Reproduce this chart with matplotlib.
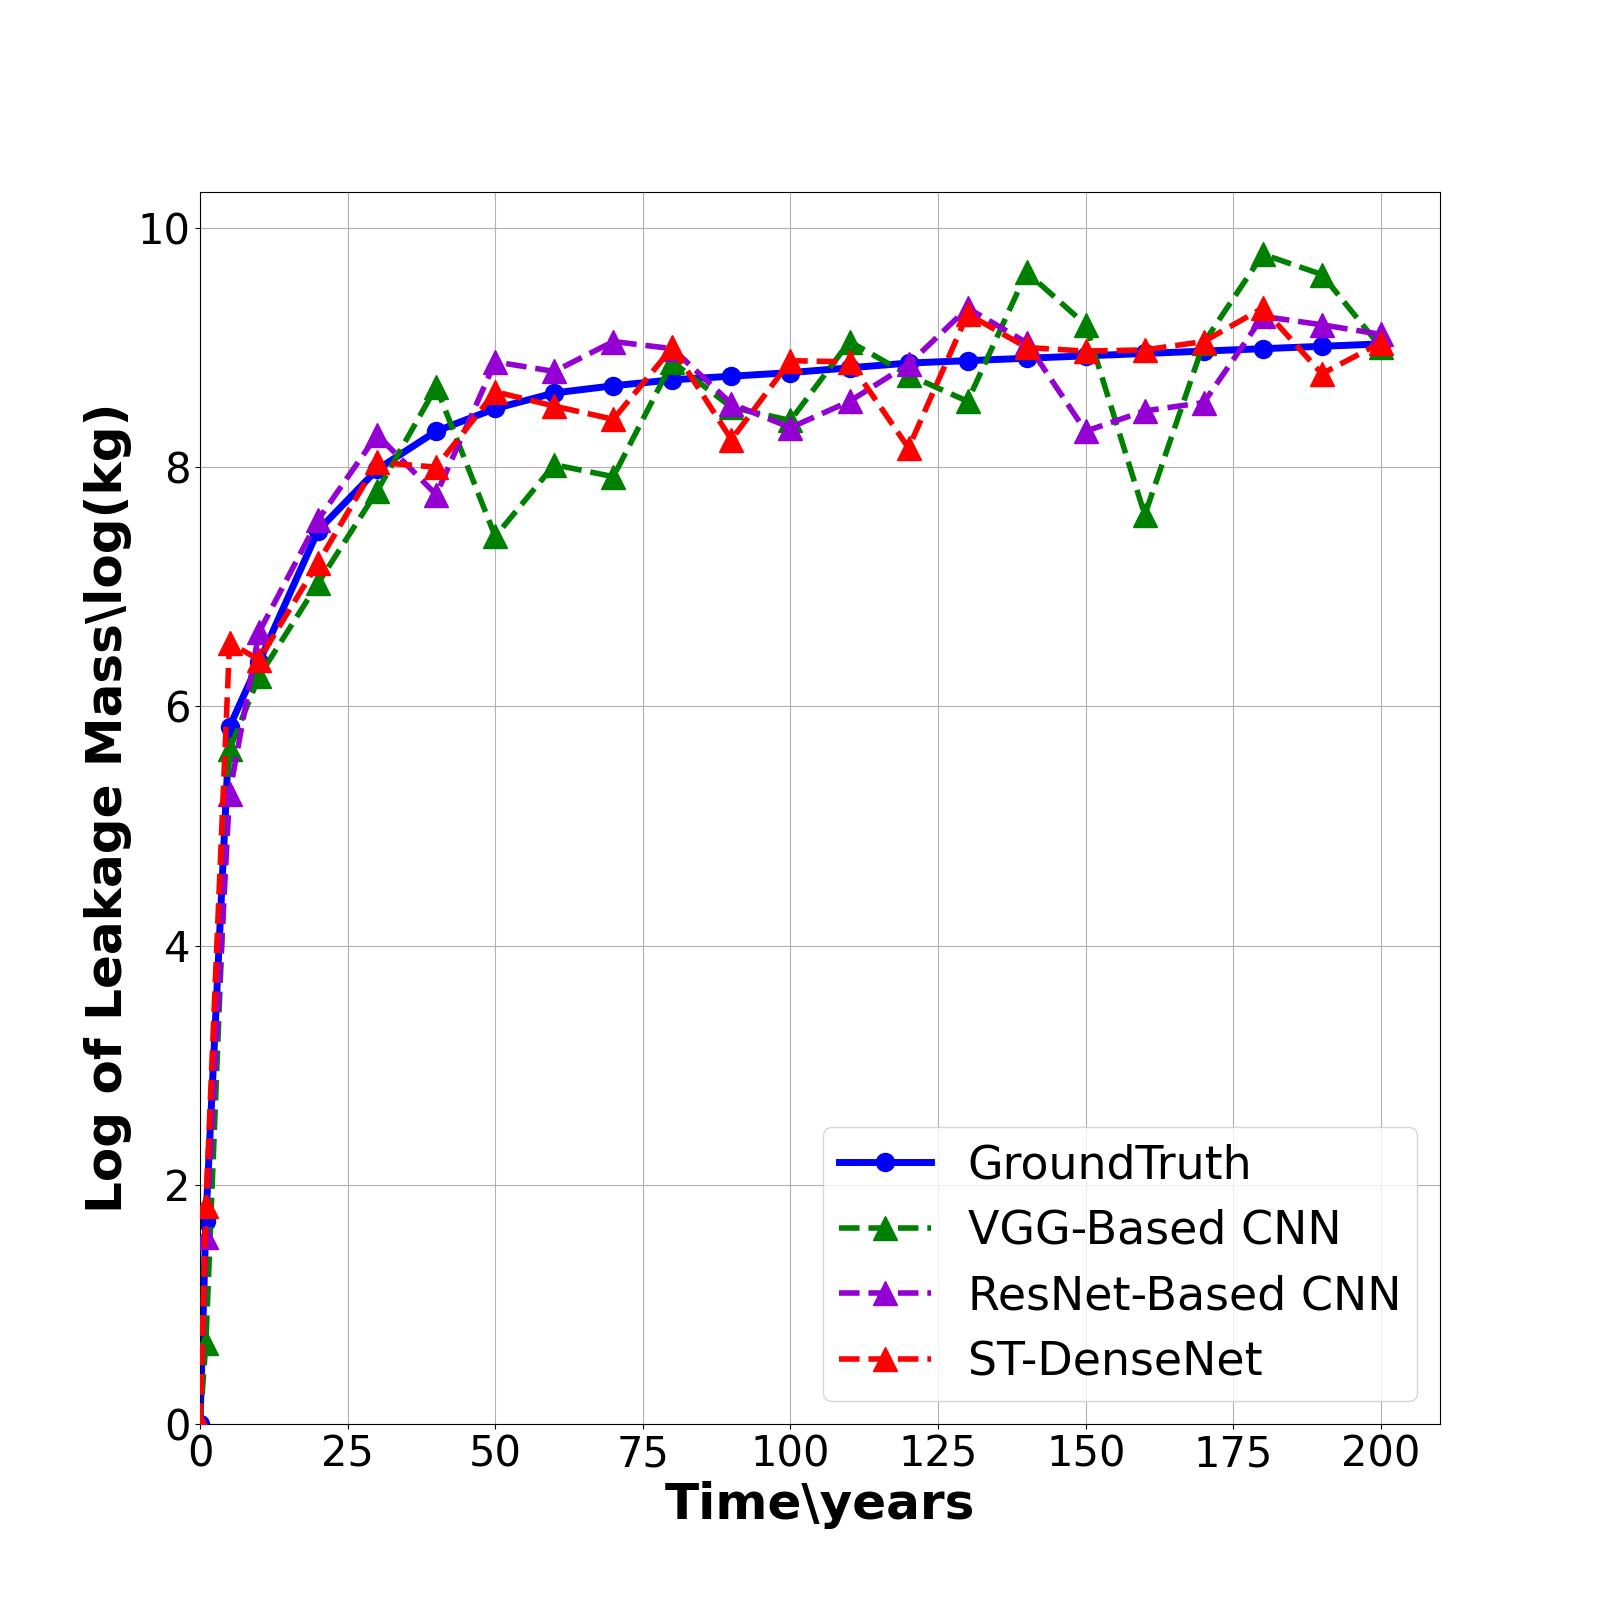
import numpy as np
import matplotlib
matplotlib.use("Agg")
import matplotlib.pyplot as plt

years = [0, 1, 5, 10, 20, 30, 40, 50, 60, 70, 80, 90, 100,
         110, 120, 130, 140, 150, 160, 170, 180, 190, 200]

ground_truth = [0.0, 1.70, 5.83, 6.37, 7.47, 7.98, 8.30, 8.49, 8.62, 8.68, 8.73, 8.76, 8.79,
                8.83, 8.87, 8.89, 8.91, 8.93, 8.95, 8.97, 8.99, 9.01, 9.03]
vgg_cnn = [0.0, 0.68, 5.64, 6.25, 7.03, 7.80, 8.67, 7.42, 8.02, 7.92, 8.88, 8.50, 8.39,
           9.05, 8.77, 8.55, 9.63, 9.19, 7.60, 9.04, 9.78, 9.61, 9.00]
resnet_cnn = [0.0, 1.56, 5.27, 6.62, 7.56, 8.27, 7.77, 8.88, 8.80, 9.05, 8.99, 8.53, 8.33,
              8.55, 8.86, 9.33, 9.04, 8.30, 8.47, 8.54, 9.26, 9.19, 9.11]
st_densenet = [0.0, 1.82, 6.53, 6.39, 7.20, 8.04, 8.00, 8.63, 8.51, 8.40, 9.00, 8.23, 8.89,
               8.88, 8.16, 9.28, 9.00, 8.97, 8.98, 9.05, 9.33, 8.78, 9.04]

if __name__ == "__main__":
    fig, ax = plt.subplots(figsize=(16, 16), dpi=100)

    ax.plot(years, ground_truth, color="blue", linestyle="-", linewidth=5,
            marker="o", markersize=13, label="GroundTruth", zorder=2)
    ax.plot(years, vgg_cnn, color="green", linestyle="--", linewidth=4,
            marker="^", markersize=17, label="VGG-Based CNN", zorder=3)
    ax.plot(years, resnet_cnn, color="darkviolet", linestyle="--", linewidth=4,
            marker="^", markersize=17, label="ResNet-Based CNN", zorder=3)
    ax.plot(years, st_densenet, color="red", linestyle="--", linewidth=4,
            marker="^", markersize=17, label="ST-DenseNet", zorder=3)

    ax.set_xlim(0, 210)
    ax.set_ylim(0, 10.3)
    ax.grid(True)
    ax.tick_params(axis="both", labelsize=30)
    ax.set_xlabel("Time\\years", fontsize=36, fontweight="bold")
    ax.set_ylabel("Log of Leakage Mass\\log(kg)", fontsize=36, fontweight="bold")
    ax.legend(loc="lower right", fontsize=33, labelspacing=0.45, borderpad=0.35)

    plt.savefig("out.png")
